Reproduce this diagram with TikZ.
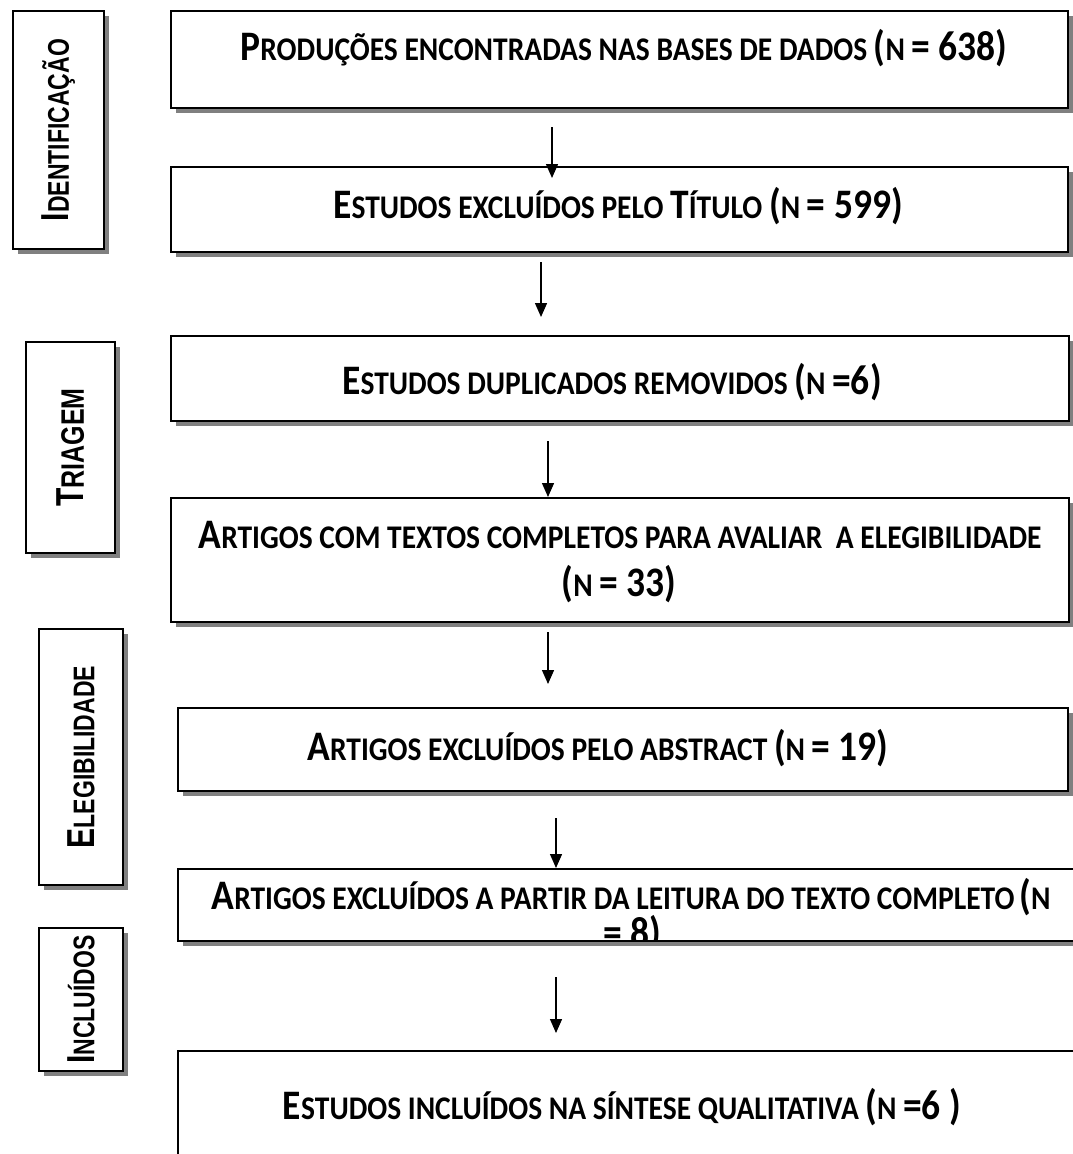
\documentclass[tikz,border=0pt]{standalone}
\usepackage{fontspec}
\setmainfont{Carlito}
\newfontfamily\arialfont{Liberation Sans}
\usetikzlibrary{arrows.meta,shadows}
\newcommand\Lg[1]{{\fontsize{37.5}{40}\selectfont #1}}
\newcommand\Lh[1]{{\fontsize{30}{34}\selectfont #1}}
\newcommand\Mt[1]{\scalebox{1}[1.12]{#1}}
\newcommand\Lt[1]{\scalebox{1}[1.3]{#1}}
\definecolor{shadowgray}{HTML}{808080}
\tikzset{
  box/.style={draw=black, line width=2pt, fill=white, inner sep=0pt, anchor=north west,
     drop shadow={shadow xshift=5pt, shadow yshift=-5pt, fill=shadowgray, opacity=1}},
  mtext/.style={font=\bfseries\fontsize{29.5}{34}\selectfont, inner sep=0pt},
  ltext/.style={font=\arialfont\bfseries\fontsize{23}{28}\selectfont, inner sep=0pt, rotate=90},
  arr/.style={line width=1.4pt, -{Triangle[length=14pt,width=12pt]}},
}
\begin{document}
\begin{tikzpicture}[x=1pt,y=-1pt]
\useasboundingbox (0,0) rectangle (1073,1154);
\clip (0,0) rectangle (1073,1154);
% stage labels
\node[box, minimum width=91pt, minimum height=238pt] (id) at (12,10) {};
\node[ltext] (idt) at (id.center) {\Lt{\Lh{I}DENTIFICAÇÃO}};
\node[box, minimum width=89pt, minimum height=211pt] (tr) at (25,341) {};
\node[ltext, font=\arialfont\bfseries\fontsize{25}{28}\selectfont] (trt) at (tr.center) {\Lt{\Lh{T}RIAGEM}};
\node[box, minimum width=84pt, minimum height=256pt] (el) at (38,628) {};
\node[ltext] (elt) at (el.center) {\Lt{\Lh{E}LEGIBILIDADE}};
\node[box, minimum width=84pt, minimum height=143pt] (in) at (38,927) {};
\node[ltext] (int) at (in.center) {\Lt{\Lh{I}NCLUÍDOS}};
% main boxes
\node[box, minimum width=897pt, minimum height=97pt] (b1) at (170,10) {};
\node[mtext] (t1) at (624,48) {\Mt{\Lg{P}RODUÇÕES ENCONTRADAS NAS BASES DE DADOS \Lg{(}N \Lg{= 638)}}};
\node[box, minimum width=897pt, minimum height=85pt] (b2) at (170,166) {};
\node[mtext] (t2) at (618,206) {\Mt{\Lg{E}STUDOS EXCLUÍDOS PELO \Lg{T}ÍTULO \Lg{(}N \Lg{= 599)}}};
\node[box, minimum width=898pt, minimum height=85pt] (b3) at (170,335) {};
\node[mtext] (t3) at (612,382) {\Mt{\Lg{E}STUDOS DUPLICADOS REMOVIDOS \Lg{(}N \Lg{=6)}}};
\node[box, minimum width=898pt, minimum height=124pt] (b4) at (170,497) {};
\node[mtext] (t4a) at (620,535) {\Mt{\Lg{A}RTIGOS COM TEXTOS COMPLETOS PARA AVALIAR\ \ A ELEGIBILIDADE}};
\node[mtext] (t4b) at (619,584) {\Mt{\Lg{(}N \Lg{= 33)}}};
\node[box, minimum width=890pt, minimum height=83pt] (b5) at (177,707) {};
\node[mtext] (t5) at (598,748) {\Mt{\Lg{A}RTIGOS EXCLUÍDOS PELO ABSTRACT \Lg{(}N \Lg{= 19)}}};
\node[box, minimum width=950pt, minimum height=72pt] (b6) at (177,868) {};
\node[mtext] (t6a) at (631,897) {\Mt{\Lg{A}RTIGOS EXCLUÍDOS A PARTIR DA LEITURA DO TEXTO COMPLETO\,\Lg{(}N}};
\begin{scope}
\clip (178,869) rectangle (1073,939);
\node[mtext] (t6b) at (632,934) {\Mt{\Lg{= 8)}}};
\end{scope}
\node[box, minimum width=950pt, minimum height=150pt] (b7) at (177,1050) {};
\node[mtext] (t7) at (622,1107) {\Mt{\Lg{E}STUDOS INCLUÍDOS NA SÍNTESE QUALITATIVA \Lg{(}N \Lg{=6 )}}};
% arrows
\coordinate (a1s) at (552,127); \coordinate (a1e) at (552,178);
\coordinate (a2s) at (541,262); \coordinate (a2e) at (541,317);
\coordinate (a3s) at (548,441); \coordinate (a3e) at (548,497);
\coordinate (a4s) at (548,632); \coordinate (a4e) at (548,684);
\coordinate (a5s) at (556,818); \coordinate (a5e) at (556,868);
\coordinate (a6s) at (556,977); \coordinate (a6e) at (556,1033);
\draw[arr] (a1s) -- (a1e);
\draw[arr] (a2s) -- (a2e);
\draw[arr] (a3s) -- (a3e);
\draw[arr] (a4s) -- (a4e);
\draw[arr] (a5s) -- (a5e);
\draw[arr] (a6s) -- (a6e);
\end{tikzpicture}
\end{document}
